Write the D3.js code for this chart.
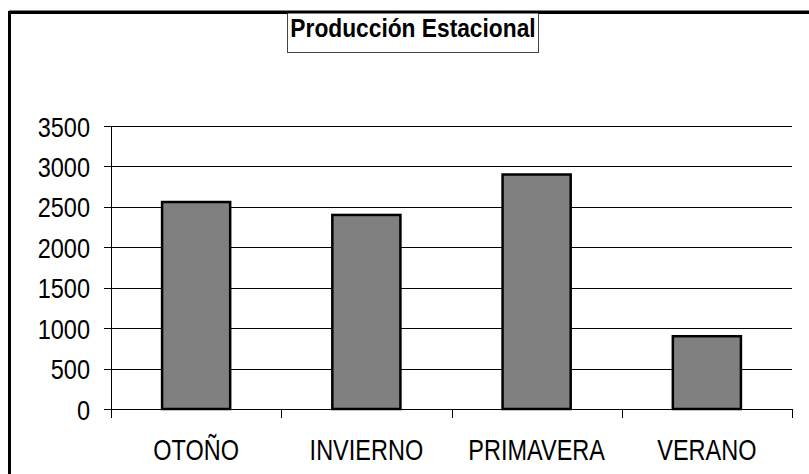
<!DOCTYPE html>
<html>
<head>
<meta charset="utf-8">
<script src="https://cdn.jsdelivr.net/npm/d3@7"></script>
<style>
  body { margin: 0; background: #fff; }
  svg { display: block; }
  text { font-family: "Liberation Sans", Arial, sans-serif; }
</style>
</head>
<body>
<svg width="809" height="474"></svg>
<script>
var categories = ["OTOÑO", "INVIERNO", "PRIMAVERA", "VERANO"];
var values = [2560, 2400, 2900, 900];
var yTicks = [0, 500, 1000, 1500, 2000, 2500, 3000, 3500];
var title = "Producción Estacional";

var svg = d3.select("svg"),
    margin = {top: 126, right: 17, bottom: 65, left: 111},
    width = +svg.attr("width") - margin.left - margin.right,
    height = +svg.attr("height") - margin.top - margin.bottom;

// squeeze text horizontally to mimic a narrow face
function narrow(sel, k) {
    sel.each(function () {
        var w = this.getComputedTextLength();
        d3.select(this).attr("textLength", w * k).attr("lengthAdjust", "spacingAndGlyphs");
    });
}

// outer frame (only top and left edges are visible)
svg.append("path")
    .attr("d", "M9.5,474 V12.5 H809")
    .attr("fill", "none")
    .attr("stroke", "#000")
    .attr("stroke-width", 3);

var g = svg.append("g").attr("transform", "translate(" + margin.left + "," + margin.top + ")");

var x = d3.scaleBand()
    .domain(categories)
    .range([0, width])
    .paddingInner(0.6)
    .paddingOuter(0.3);

var xEdge = d3.scaleLinear()
    .domain([0, categories.length])
    .range([0, width]);

var y = d3.scaleLinear()
    .domain([0, 3500])
    .range([height, 0]);

// gridlines
g.append("g")
    .attr("class", "grid")
    .call(d3.axisLeft(y).tickValues(yTicks.slice(1)).tickSize(-width).tickFormat(""))
    .call(function (s) { s.select(".domain").remove(); })
    .selectAll("line")
    .attr("stroke", "#000")
    .attr("shape-rendering", "crispEdges");

// bars
g.selectAll(".bar")
    .data(values)
    .enter().append("rect")
    .attr("class", "bar")
    .attr("x", function (d, i) { return x(categories[i]); })
    .attr("y", function (d) { return y(d); })
    .attr("width", x.bandwidth())
    .attr("height", function (d) { return height - y(d); })
    .attr("fill", "#808080")
    .attr("stroke", "#000")
    .attr("stroke-width", 2.5);

// y axis
var yAxis = g.append("g")
    .call(d3.axisLeft(y).tickValues(yTicks).tickFormat(d3.format("d"))
        .tickSize(7).tickSizeOuter(0).tickPadding(14));
yAxis.select(".domain").remove();
yAxis.selectAll("line").attr("stroke", "#000").attr("shape-rendering", "crispEdges");
yAxis.selectAll("text")
    .attr("font-size", 28)
    .attr("fill", "#000")
    .attr("dy", "0.36em")
    .call(narrow, 0.84);
g.append("line")
    .attr("x1", 0).attr("x2", 0)
    .attr("y1", 0).attr("y2", height + 9)
    .attr("stroke", "#000")
    .attr("shape-rendering", "crispEdges");

// x axis: boundary ticks
var xAxis = g.append("g")
    .attr("transform", "translate(0," + height + ")")
    .call(d3.axisBottom(xEdge).ticks(categories.length).tickSize(9).tickSizeOuter(0).tickFormat(""));
xAxis.select(".domain").attr("stroke", "#000").attr("shape-rendering", "crispEdges");
xAxis.selectAll("line").attr("stroke", "#000").attr("shape-rendering", "crispEdges");

// x axis labels
var xLabels = g.append("g")
    .attr("transform", "translate(0," + height + ")")
    .call(d3.axisBottom(x).tickSize(0).tickPadding(30));
xLabels.select(".domain").remove();
xLabels.selectAll("text")
    .attr("font-size", 29)
    .attr("fill", "#000")
    .call(narrow, 0.81);

// title box
var tb = svg.append("g");
tb.append("rect")
    .attr("x", 287.5).attr("y", 12.5)
    .attr("width", 251).attr("height", 40)
    .attr("fill", "#fff")
    .attr("stroke", "#444");
tb.append("text")
    .attr("x", 413).attr("y", 37)
    .attr("text-anchor", "middle")
    .attr("font-size", 25)
    .attr("font-weight", "bold")
    .attr("fill", "#000")
    .text(title)
    .call(narrow, 0.91);
svg.append("line")
    .attr("x1", 9).attr("x2", 809)
    .attr("y1", 12).attr("y2", 12)
    .attr("stroke", "#000")
    .attr("stroke-width", 3);
</script>
</body>
</html>
